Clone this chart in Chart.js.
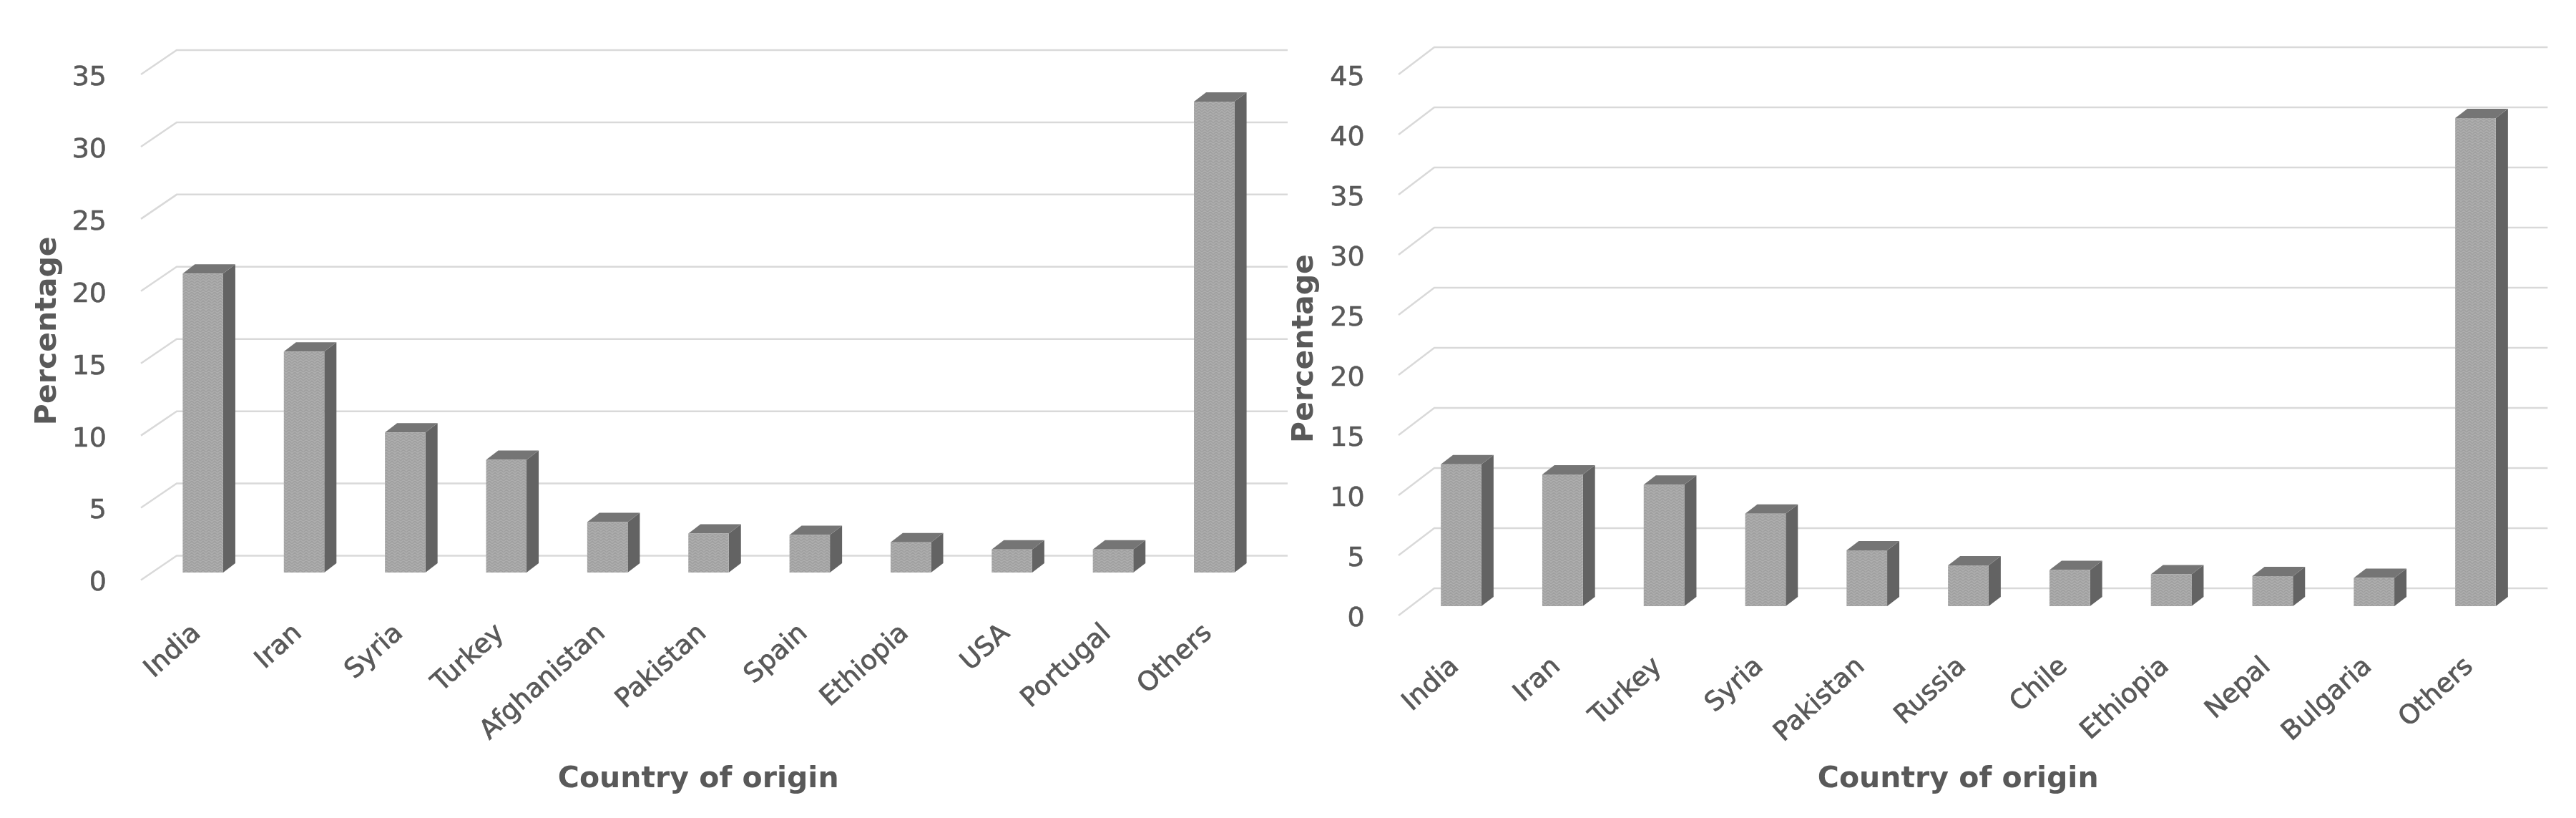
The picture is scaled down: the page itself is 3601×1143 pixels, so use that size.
<!DOCTYPE html>
<html>
<head>
<meta charset="utf-8">
<title>Country of origin</title>
<script src="https://cdn.jsdelivr.net/npm/chart.js@4"></script>
<style>
  html, body { margin: 0; padding: 0; background: #fff; }
  #wrap { position: relative; width: 3601px; height: 1143px; overflow: hidden; }
  .box { position: absolute; top: 0; height: 1143px; }
  #boxLeft { left: 0; width: 1800px; }
  #boxRight { left: 1800px; width: 1801px; }
  /* the reference is a soft, upscaled screenshot */
  canvas { filter: blur(0.7px); }
</style>
</head>
<body>
<div id="wrap">
  <div class="box" id="boxLeft"><canvas id="chartLeft"></canvas></div>
  <div class="box" id="boxRight"><canvas id="chartRight"></canvas></div>
</div>
<script>
const leftCountries = ["India", "Iran", "Syria", "Turkey", "Afghanistan", "Pakistan", "Spain", "Ethiopia", "USA", "Portugal", "Others"];
const leftValues = [20.7, 15.3, 9.7, 7.8, 3.5, 2.7, 2.6, 2.1, 1.6, 1.6, 32.6];
const leftMax = 35;

const rightCountries = ["India", "Iran", "Turkey", "Syria", "Pakistan", "Russia", "Chile", "Ethiopia", "Nepal", "Bulgaria", "Others"];
const rightValues = [11.8, 10.95, 10.1, 7.7, 4.65, 3.4, 3.0, 2.65, 2.5, 2.35, 40.6];
const rightMax = 45;

const tickStep = 5;
const yTitle = "Percentage";
// trailing nbsp nudges the centred title left of the plot centre
const xTitle = "Country of origin\u00a0\u00a0";

const textColor = "#595959";
const gridColor = "#d9d9d9";
const sideColor = "#636363";
const topColor = "#757575";

// zigzag fill like the bars in the picture
function makeFrontPattern() {
  let tile = document.createElement("canvas");
  tile.width = 8;
  tile.height = 8;
  let tileCtx = tile.getContext("2d");
  tileCtx.fillStyle = "#aeaeae";
  tileCtx.fillRect(0, 0, 8, 8);
  tileCtx.strokeStyle = "#9f9f9f";
  tileCtx.lineWidth = 1.5;
  tileCtx.beginPath();
  tileCtx.moveTo(0, 4);
  tileCtx.lineTo(4, 0);
  tileCtx.lineTo(8, 4);
  tileCtx.moveTo(0, 8);
  tileCtx.lineTo(4, 4);
  tileCtx.lineTo(8, 8);
  tileCtx.stroke();
  return tileCtx.createPattern(tile, "repeat");
}

// fake 3D: floor lines and bar sides, all hung off the real scales and bar elements
const fake3d = {
  id: "fake3d",
  beforeDatasetsDraw(chart, args, opts) {
    let ctx = chart.ctx;
    let area = chart.chartArea;
    let floorScale = chart.scales.yFloor;

    ctx.save();
    ctx.strokeStyle = gridColor;
    ctx.lineWidth = 2.5;
    chart.scales.y.ticks.forEach(tick => {
      let y = floorScale.getPixelForValue(tick.value);
      ctx.beginPath();
      ctx.moveTo(area.left + opts.frontDx, y);
      ctx.lineTo(area.left + opts.backDx, y - opts.backDy);
      ctx.lineTo(area.right + opts.endDx, y - opts.backDy);
      ctx.stroke();
    });

    chart.getDatasetMeta(0).data.forEach(bar => {
      let left = bar.x - bar.width / 2;
      let right = bar.x + bar.width / 2;

      ctx.fillStyle = sideColor;
      ctx.beginPath();
      ctx.moveTo(right, bar.y);
      ctx.lineTo(right + opts.barDx, bar.y - opts.barDy);
      ctx.lineTo(right + opts.barDx, bar.base - opts.barDy);
      ctx.lineTo(right, bar.base);
      ctx.closePath();
      ctx.fill();

      ctx.fillStyle = topColor;
      ctx.beginPath();
      ctx.moveTo(left, bar.y);
      ctx.lineTo(left + opts.barDx, bar.y - opts.barDy);
      ctx.lineTo(right + opts.barDx, bar.y - opts.barDy);
      ctx.lineTo(right, bar.y);
      ctx.closePath();
      ctx.fill();
    });
    ctx.restore();
  }
};

function makeChart(canvasId, countries, values, maxValue, look) {
  new Chart(document.getElementById(canvasId), {
    type: "bar",
    data: {
      labels: countries,
      datasets: [{
        data: values,
        yAxisID: "yBar",
        backgroundColor: makeFrontPattern(),
        barPercentage: 0.4,
        categoryPercentage: 1
      }]
    },
    plugins: [fake3d],
    options: {
      responsive: true,
      maintainAspectRatio: false,
      animation: false,
      layout: {
        autoPadding: false,
        padding: { left: look.padLeft, right: look.padRight, top: look.padTop, bottom: look.padBottom }
      },
      plugins: {
        legend: { display: false },
        tooltip: { enabled: false },
        fake3d: look.depth
      },
      scales: {
        x: {
          grid: { display: false },
          border: { display: false },
          afterFit: scale => { scale.height = look.xHeight; },
          ticks: {
            color: textColor,
            font: { family: "DejaVu Sans", size: 37 },
            textStrokeColor: textColor,
            textStrokeWidth: 0.8,
            minRotation: 42,
            maxRotation: 42,
            padding: look.xTickPad,
            labelOffset: -8,
            autoSkip: false
          },
          title: {
            display: true,
            text: xTitle,
            color: textColor,
            padding: 0,
            font: { family: "DejaVu Sans", size: 41, weight: "bold" }
          }
        },
        // tick labels only
        y: {
          min: 0,
          max: maxValue,
          grid: { display: false },
          border: { display: false },
          afterFit: scale => { scale.width = look.yWidth; },
          ticks: {
            stepSize: tickStep,
            color: textColor,
            textStrokeColor: textColor,
            textStrokeWidth: 0.6,
            padding: look.yTickPad,
            font: { family: "DejaVu Sans", size: 38 }
          },
          title: {
            display: true,
            text: yTitle,
            color: textColor,
            padding: 0,
            font: { family: "DejaVu Sans", size: 41, weight: "bold" }
          }
        },
        // front edge of the floor, a few px above the labels
        yFloor: {
          display: false,
          min: -look.floorLift,
          max: maxValue - look.floorLift
        },
        // bars stand a little behind the front edge, same units per pixel
        yBar: {
          display: false,
          min: -look.barLift,
          max: maxValue - look.barLift
        }
      }
    }
  });
}

makeChart("chartLeft", leftCountries, leftValues, leftMax, {
  padLeft: 43, padRight: 32, padTop: 109, padBottom: 29,
  xHeight: 298.5, yWidth: 170, xTickPad: 40, yTickPad: 56,
  floorLift: 0.247, barLift: 0.765,
  depth: { frontDx: -16, backDx: 34, backDy: 34, endDx: 32, barDx: 17, barDy: 13 }
});

makeChart("chartRight", rightCountries, rightValues, rightMax, {
  padLeft: 0, padRight: 69.6, padTop: 109, padBottom: 29,
  xHeight: 249, yWidth: 171.6, xTickPad: 37, yTickPad: 56,
  floorLift: 0.298, barLift: 1.07,
  depth: { frontDx: -16.6, backDx: 33.4, backDy: 38, endDx: 30, barDx: 17, barDy: 13 }
});
</script>
</body>
</html>
